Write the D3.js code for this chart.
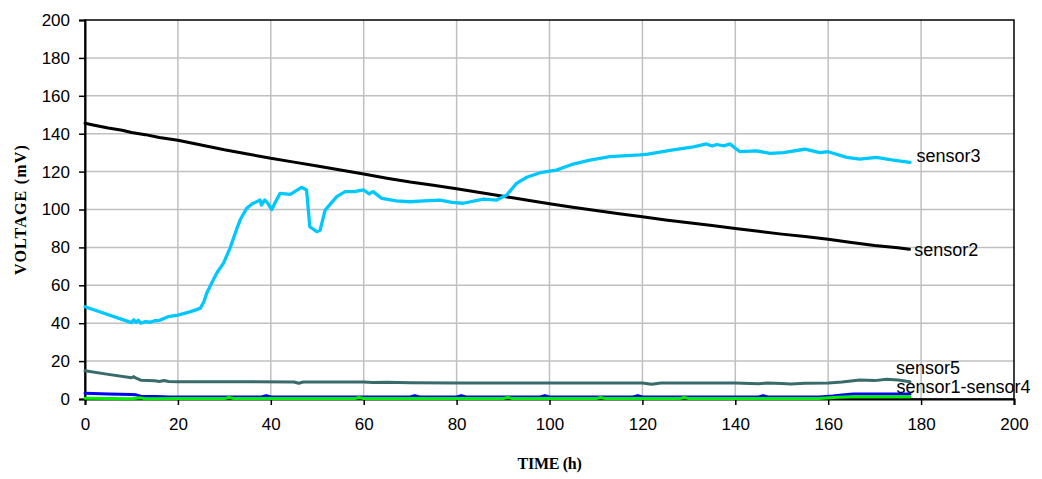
<!DOCTYPE html>
<html><head><meta charset="utf-8">
<script src="https://cdn.jsdelivr.net/npm/d3@7"></script>
<style>html,body{margin:0;padding:0;background:#fff;}svg{display:block;}</style>
</head><body>
<svg id="chart" width="1042" height="479"></svg>
<script>
// ---- data (time h, voltage mV) ----
const xTicks = [0,20,40,60,80,100,120,140,160,180,200];
const yTicks = [0,20,40,60,80,100,120,140,160,180,200];
const sensor2 = [[0,145.5],[2,144.5],[5,143],[8,141.8],[10,140.6],[13,139.5],[16,138],[20,136.5],[25,134],[30,131.5],[35,129.3],[40,127],[45,125],[50,123],[55,120.8],[60,118.7],[65,116.5],[70,114.5],[75,112.8],[80,111],[85,109],[90,107],[95,105],[100,103],[105,101.2],[110,99.5],[115,97.8],[120,96.2],[125,94.5],[130,93],[135,91.5],[140,90],[145,88.5],[150,87],[155,85.7],[160,84.3],[165,82.6],[170,81],[175,79.8],[177.5,79]];
const sensor3 = [[0,48.7],[10,40.3],[10.5,41.8],[11,40.5],[11.5,41.5],[12,40],[13,40.8],[14,40.5],[15,41.3],[16,41.5],[17,42.5],[18,43.5],[20,44.3],[22.6,46],[24.8,47.8],[25.6,51.3],[26.2,55.8],[27.6,62.8],[28.5,67],[29.8,71.6],[31.2,79.5],[32.7,90],[33.5,95],[34.8,100.6],[36,103],[37.7,105],[38,102.4],[38.7,105],[39.3,103.5],[40.2,100],[41,104],[42,108.5],[44.2,108],[46.6,111.7],[47.7,110.3],[48.4,90.9],[49.9,88.3],[50.6,89],[51.7,99.7],[54.2,106.8],[56,109.4],[58,109.4],[60,110.3],[61.2,108.2],[62,109.4],[63.9,105.9],[67,104.5],[70,104.1],[73,104.6],[76.4,105],[79,103.8],[81.4,103.3],[85.8,105.5],[88.6,105],[90.8,107.7],[92.9,113.8],[95.1,117],[98,119.4],[101.5,120.8],[105.1,124],[108.7,126.1],[113,127.9],[119.5,128.8],[121.2,129.2],[126.6,131.4],[131,133.1],[133.8,134.6],[135,133.5],[136,134.3],[137.5,133.6],[138.9,134.6],[140,132.3],[141,130.5],[144.6,130.9],[147.5,129.6],[150.4,130],[153.9,131.4],[155,131.9],[158.2,130],[160,130.5],[164,127.5],[166.8,126.6],[170.4,127.5],[172,126.8],[174,126.1],[177.6,124.9]];
const sensor5 = [[0,14.9],[5,13],[10,11.2],[10.5,11.8],[11,11],[12,9.9],[15,9.6],[16,9.2],[17,9.8],[18,9.2],[20,9.1],[30,9.1],[45,9],[46,8.3],[47,9],[60,9],[62,8.7],[65,8.8],[70,8.6],[80,8.5],[100,8.5],[120,8.5],[122,7.8],[124,8.4],[140,8.4],[145,8],[147,8.5],[150,8.2],[152,7.9],[155,8.3],[160,8.5],[163,9],[166.8,10],[170,9.7],[172.6,10.4],[175,10],[177.6,9.1]];
const sensor1 = [[0,3],[5,2.7],[10,2.4],[11,2.2],[12,1.5],[15,1.3],[17,1.2],[18,1.1],[38,1.1],[39,1.8],[40,1.1],[70,1.1],[71,1.8],[72,1.1],[80,1.1],[81,1.8],[82,1.1],[98,1.1],[99,1.8],[100,1.1],[118,1.1],[119,1.8],[120,1.1],[145,1.1],[146,1.7],[147,1.1],[158,1.1],[161,1.6],[163,2.1],[165.4,2.6],[177.6,2.6]];
const sensor4 = [[0,0.4],[10,0.1],[12,0.6],[13,0.1],[20,0.2],[30,0.2],[31,0.8],[32,0.2],[58,0.2],[59,0.8],[60,0.2],[90,0.2],[91,0.8],[92,0.2],[110,0.2],[111,0.8],[112,0.2],[128,0.2],[129,0.8],[130,0.2],[158,0.3],[162,0.9],[165,1.2],[177.6,1.2]];
const seriesColors = {s1:"#0000ff", s2:"#000000", s3:"#00c8ff", s4:"#00f000", s5:"#3a6b6b"};

const svg = d3.select("#chart");
const L = 85, R = 1014, T = 20, B = 399;
const x = d3.scaleLinear().domain([0,200]).range([L,R]);
const y = d3.scaleLinear().domain([0,200]).range([B,T]);

// grid
const g = svg.append("g");
g.selectAll(".vg").data(xTicks.slice(1,-1)).join("line")
  .attr("x1", d=>x(d)).attr("x2", d=>x(d)).attr("y1", T).attr("y2", B)
  .attr("stroke", "#c0c0c0").attr("stroke-width", 1.5);
g.selectAll(".hg").data(yTicks.slice(1,-1)).join("line")
  .attr("y1", d=>y(d)).attr("y2", d=>y(d)).attr("x1", L).attr("x2", R)
  .attr("stroke", "#c0c0c0").attr("stroke-width", 1.5);

// border
svg.append("rect").attr("x", L).attr("y", T).attr("width", R-L).attr("height", B-T)
  .attr("fill", "none").attr("stroke", "#000").attr("stroke-width", 1.5);

// axes
const xAxis = d3.axisBottom(x).tickValues(xTicks).tickSize(6).tickPadding(13);
const yAxis = d3.axisLeft(y).tickValues(yTicks).tickSize(6).tickPadding(9);
const gx = svg.append("g").attr("transform", `translate(0,${B})`).call(xAxis);
const gy = svg.append("g").attr("transform", `translate(${L},0)`).call(yAxis);
[gx, gy].forEach(a => {
  a.select(".domain").attr("stroke", "#000").attr("stroke-width", 2);
  a.selectAll(".tick line").attr("stroke", "#000").attr("stroke-width", 1.5);
  a.selectAll(".tick text").attr("font-family", "'Liberation Sans', Arial, sans-serif")
    .attr("font-size", 17).attr("fill", "#000");
});

// lines
const line = d3.line().x(d=>x(d[0])).y(d=>y(d[1]));
const series = [
  {data: sensor5, color: seriesColors.s5, w: 3},
  {data: sensor1, color: seriesColors.s1, w: 3},
  {data: sensor4, color: seriesColors.s4, w: 3},
  {data: sensor2, color: seriesColors.s2, w: 3},
  {data: sensor3, color: seriesColors.s3, w: 3.3}
];
svg.append("g").selectAll("path").data(series).join("path")
  .attr("d", d=>line(d.data)).attr("fill", "none")
  .attr("stroke", d=>d.color).attr("stroke-width", d=>d.w)
  .attr("stroke-linejoin", "round").attr("stroke-linecap", "round");

// series labels
const labels = [
  {text:"sensor3", t:179.0, v:128.3},
  {text:"sensor2", t:178.5, v:78.5},
  {text:"sensor5", t:174.6, v:16.4},
  {text:"sensor1-sensor4", t:174.7, v:6.4}
];
svg.append("g").selectAll("text").data(labels).join("text")
  .attr("x", d=>x(d.t)).attr("y", d=>y(d.v))
  .attr("font-family", "'Liberation Sans', Arial, sans-serif").attr("font-size", 18)
  .attr("dominant-baseline", "central").attr("fill", "#000").text(d=>d.text);

// axis titles
svg.append("text").attr("x", (L+R)/2).attr("y", 469).attr("text-anchor", "middle")
  .attr("font-family", "'Liberation Serif', 'Times New Roman', serif").attr("font-weight", "bold")
  .attr("font-size", 16).attr("letter-spacing", -0.3).text("TIME (h)");
svg.append("text").attr("transform", `translate(26,${(T+B)/2}) rotate(-90)`).attr("text-anchor", "middle")
  .attr("font-family", "'Liberation Serif', 'Times New Roman', serif").attr("font-weight", "bold")
  .attr("font-size", 16).attr("letter-spacing", 1.2).text("VOLTAGE (mV)");
</script>
</body></html>
